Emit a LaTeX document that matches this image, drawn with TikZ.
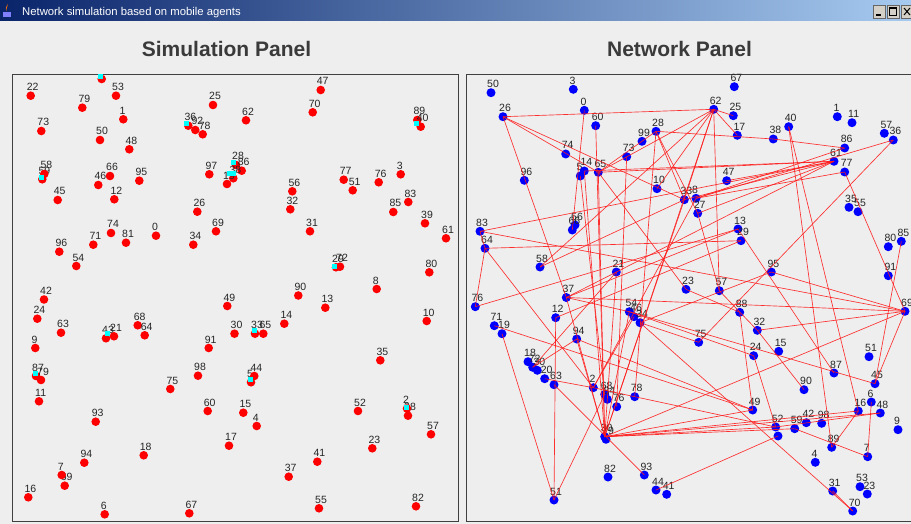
\documentclass[tikz,border=0pt]{standalone}
\usepackage{fontspec}
\setmainfont{Liberation Sans}
\usetikzlibrary{calc}
\definecolor{bg}{HTML}{EEEEEE}
\definecolor{tbdark}{HTML}{0A246A}
\definecolor{tblight}{HTML}{A6CAF0}
\definecolor{ttl}{HTML}{3A3A3A}
\definecolor{frame}{HTML}{404040}
\definecolor{agentred}{HTML}{FF0000}
\definecolor{netblue}{HTML}{0000FF}
\definecolor{cy}{HTML}{00FFFF}
\definecolor{edgered}{HTML}{FF1A1A}
\definecolor{btn}{HTML}{D4D0C8}
\tikzset{
  rdot/.style={circle, fill=agentred, inner sep=0pt, minimum size=8.6pt},
  bdot/.style={circle, fill=netblue, inner sep=0pt, minimum size=9pt},
  lab/.style={anchor=base west, inner sep=0pt, font=\fontsize{10.5}{12}\selectfont, text=black!85},
  cyanmark/.style={fill=cy, draw=none, inner sep=0pt, minimum width=5pt, minimum height=5pt},
  edge/.style={draw=edgered, line width=0.65pt, opacity=0.9},
  panel/.style={draw=frame, line width=1pt, fill=bg},
  paneltitle/.style={anchor=base, inner sep=0pt, font=\fontsize{21}{24}\selectfont\bfseries, text=ttl},
  winbtn/.style={draw=black!60, fill=btn, line width=0.6pt}
}
\newcommand\mkred[4]{\node[rdot] (#1) at (#2,#3) {}; \node[lab] (#1t) at (#2-4,#3-5) {#4};}
\newcommand\mkblue[4]{\node[bdot] (#1) at (#2,#3) {}; \node[lab] (#1t) at (#2-4,#3-5) {#4};}
\newcommand\cya[3]{\node[cyanmark] (#1) at (#2,#3) {};}
\newcommand\edgeline[2]{\draw[edge] (#1.center) -- (#2.center);}
\begin{document}
\begin{tikzpicture}[x=1pt,y=-1pt]
\useasboundingbox (0,0) rectangle (911,524);
\fill[bg] (0,0) rectangle (911,524);
% title bar
\shade[left color=tbdark, right color=tblight] (0,1) rectangle (911,21);
\fill[orange!90!red] (7,3.5) .. controls (9,7) and (5,8) .. (7,11) .. controls (4,8) and (8,6) .. (7,3.5);
\fill[blue!50!white] (3,12) rectangle (11,17.5);
\node[anchor=base west, text=white, font=\fontsize{11.3}{12}\selectfont, inner sep=0pt] (wtitle) at (22,15.5) {Network simulation based on mobile agents};
\draw[winbtn] (873,5) rectangle (885,18);
\draw[line width=1.2pt] (876,15) -- (881,15);
\draw[winbtn] (887,5) rectangle (899,18);
\draw[line width=0.8pt] (889.5,7.5) rectangle (896.5,15.5);
\draw[line width=1.6pt] (889.5,7.8) -- (896.5,7.8);
\draw[winbtn] (901,5) rectangle (913,18);
\draw[line width=1pt] (904,8) -- (910,15) (904,15) -- (910,8);
% panel titles
\node[paneltitle] (stitle) at (226.5,56.5) {Simulation Panel};
\node[paneltitle] (ntitle) at (679.5,56.5) {Network Panel};
% panels
\draw[panel] (12,75) rectangle (458,521);
\draw[panel] (466,75) rectangle (912,521);

% ---------------- simulation panel ----------------
\node[rdot] (atop) at (101.7,79) {};
\mkred{a22}{30.7}{95.7}{22}
\mkred{a53}{116}{95.7}{53}
\mkred{a79}{82.3}{107.7}{79}
\mkred{a1}{123.3}{119.3}{1}
\mkred{a25}{213}{105}{25}
\mkred{a73}{41.3}{131}{73}
\mkred{a36}{188.3}{125.7}{36}
\mkred{a92}{195.3}{130}{92}
\mkred{a78}{202.7}{134.3}{78}
\mkred{a50}{100}{140}{50}
\mkred{a48}{129.3}{149.3}{48}
\mkred{a59}{42.3}{179.3}{59}
\mkred{a58}{44.3}{174}{58}
\mkred{a66}{110}{176}{66}
\mkred{a46}{98.3}{185}{46}
\mkred{a95}{139.3}{180.7}{95}
\mkred{a97}{209.3}{174.3}{97}
\mkred{a45}{57.7}{200}{45}
\mkred{a12}{114.3}{199.3}{12}
\mkred{a26}{197.3}{211.7}{26}
\mkred{a74}{111}{233}{74}
\mkred{a81}{126}{242.7}{81}
\mkred{a0}{156}{235.7}{0}
\mkred{a34}{193.3}{244.7}{34}
\mkred{a69}{216}{231.3}{69}
\mkred{a71}{93.3}{244.7}{71}
\mkred{a96}{59.3}{251.7}{96}
\mkred{a54}{76.3}{266}{54}
\mkred{a42}{44}{299.5}{42}
\mkred{a49}{227.3}{306}{49}
\mkred{a28}{236}{165}{28}
\mkred{a86}{241.7}{170.7}{86}
\mkred{a38c}{233.3}{178.3}{38}
\mkred{a19}{227}{184}{19}
\mkred{a62}{246}{120.3}{62}
\mkred{a47}{320.7}{90}{47}
\mkred{a70}{312.7}{112.3}{70}
\mkred{a89}{417.3}{120}{89}
\mkred{a40}{420.7}{126.7}{40}
\mkred{a56}{292.3}{191.3}{56}
\mkred{a32}{290.3}{209.3}{32}
\mkred{a77}{343.7}{179.7}{77}
\mkred{a51}{352.7}{190.3}{51}
\mkred{a76}{378.7}{182.3}{76}
\mkred{a3}{400.7}{174.3}{3}
\mkred{a83}{408.3}{202}{83}
\mkred{a85}{393.3}{212}{85}
\mkred{a39}{425}{223.3}{39}
\mkred{a61}{446}{238.3}{61}
\mkred{a31}{310}{231.3}{31}
\mkred{a29}{336}{267.3}{29}
\mkred{a72}{340}{266.7}{72}
\mkred{a80}{429.3}{272.3}{80}
\mkred{a8}{376.7}{289}{8}
\mkred{a90}{298.3}{295.5}{90}
\mkred{a13}{325.3}{307.7}{13}
\mkred{a24}{37.3}{318.7}{24}
\mkred{a63}{61}{332.7}{63}
\mkred{a43}{106}{338.3}{43}
\mkred{a21}{114}{336.3}{21}
\mkred{a68}{137.7}{325.3}{68}
\mkred{a64}{144.7}{335.3}{64}
\mkred{a91}{208.7}{348}{91}
\mkred{a30}{234.5}{333.7}{30}
\mkred{a9}{35.3}{348}{9}
\mkred{a87}{36}{376}{87}
\mkred{a79b}{41}{380}{79}
\mkred{a98}{198}{375.7}{98}
\mkred{a75}{170.3}{389}{75}
\mkred{a11}{39}{401.3}{11}
\mkred{a60}{207.7}{411}{60}
\mkred{a93}{95.7}{421.7}{93}
\mkred{a17}{229}{445.7}{17}
\mkred{a18}{143.7}{455.3}{18}
\mkred{a94}{84.3}{462.7}{94}
\mkred{a69b}{64.7}{485.7}{69}
\mkred{a7}{61.7}{475}{7}
\mkred{a16}{28.3}{497.3}{16}
\mkred{a6}{104.7}{514.3}{6}
\mkred{a67}{189.3}{513.3}{67}
\mkred{a10}{426.7}{321}{10}
\mkred{a14}{284.3}{323.7}{14}
\mkred{a33}{255}{333.7}{33}
\mkred{a65}{263.3}{333.7}{65}
\mkred{a35}{380.3}{360.3}{35}
\mkred{a5}{251}{382.3}{5}
\mkred{a44}{254.3}{376}{44}
\mkred{a15}{243.3}{412.7}{15}
\mkred{a4}{256.7}{426}{4}
\mkred{a52}{358}{411}{52}
\mkred{a38}{408}{415.7}{38}
\mkred{a2}{407}{408.5}{2}
\mkred{a57}{431}{434.3}{57}
\mkred{a23}{372.3}{448.3}{23}
\mkred{a41}{317.3}{461.7}{41}
\mkred{a37}{288.7}{476.7}{37}
\mkred{a55}{319}{508.3}{55}
\mkred{a82}{416}{506.3}{82}
% cyan markers
\cya{c1}{100.7}{77}
\cya{c2}{186.7}{123.3}
\cya{c3}{41}{177.3}
\cya{c4}{233.3}{162.7}
\node[cyanmark, minimum width=9pt] (c5) at (231.7,174) {};
\cya{c6}{416.3}{124}
\cya{c7}{334.3}{266}
\cya{c8}{107.7}{333.7}
\cya{c9}{35.3}{373.7}
\cya{c10}{254.3}{330.7}
\cya{c11}{250}{379.3}
\cya{c12}{406.7}{407.3}

% ---------------- network panel ----------------
\mkblue{n50}{491}{92.7}{50}
\mkblue{n3}{573.3}{89.3}{3}
\mkblue{n67}{734.3}{86.7}{67}
\mkblue{n26}{503}{116.7}{26}
\mkblue{n0}{584.3}{110.3}{0}
\mkblue{n60}{595.7}{125.7}{60}
\mkblue{n62}{713.7}{109.3}{62}
\mkblue{n25}{733.3}{115.7}{25}
\mkblue{n17}{737.3}{135.3}{17}
\mkblue{n1}{837.3}{116.7}{1}
\mkblue{n11}{852}{122.7}{11}
\mkblue{n40}{788.7}{126.7}{40}
\mkblue{n38}{773.3}{139}{38}
\mkblue{n28}{656}{131.3}{28}
\mkblue{n99}{642}{141.3}{99}
\mkblue{n57}{884.3}{133.3}{57}
\mkblue{n36}{893.3}{140}{36}
\mkblue{n86}{844.7}{148}{86}
\mkblue{n74}{565.7}{154}{74}
\mkblue{n73}{626.7}{156.7}{73}
\mkblue{n61}{834}{161.3}{61}
\mkblue{n77}{844.7}{172}{77}
\mkblue{n5}{580.3}{176}{5}
\mkblue{n14}{584.3}{171}{14}
\mkblue{n65}{598.3}{172.3}{65}
\mkblue{n47}{726.7}{180.7}{47}
\mkblue{n96}{524.3}{180.3}{96}
\mkblue{n10}{657}{188.7}{10}
\mkblue{n33}{684.3}{199.7}{33}
\mkblue{n8}{696}{198.3}{8}
\mkblue{n27}{697.7}{213.3}{27}
\mkblue{n35}{849}{207.3}{35}
\mkblue{n55}{858}{211.7}{55}
\mkblue{n56}{575}{225}{56}
\mkblue{n66}{572.3}{230}{66}
\mkblue{n83}{480}{231.3}{83}
\mkblue{n13}{738}{229}{13}
\mkblue{n29}{741}{240.7}{29}
\mkblue{n85}{901.3}{241.3}{85}
\mkblue{n80}{888.3}{246.7}{80}
\mkblue{n64}{485}{248.3}{64}
\mkblue{n58}{540}{267}{58}
\mkblue{n21}{616.3}{272}{21}
\mkblue{n95}{771.3}{272}{95}
\mkblue{n91}{888.3}{275.7}{91}
\mkblue{n23}{686}{289.3}{23}
\mkblue{n97}{719.3}{290.7}{57}
\mkblue{n37}{566.3}{297.5}{37}
\mkblue{n76}{475.3}{306.7}{76}
\mkblue{n54}{629.3}{311.7}{54}
\mkblue{n46}{634}{316.7}{46}
\mkblue{n34}{640}{322.7}{34}
\mkblue{n88}{739.7}{312.3}{88}
\mkblue{n69}{905}{311.3}{69}
\mkblue{n12}{555.7}{317.7}{12}
\mkblue{n71}{494.3}{325.7}{71}
\mkblue{n32}{757.3}{330.3}{32}
\mkblue{n19}{502}{333.7}{19}
\mkblue{n94}{576.7}{339}{94}
\mkblue{n75}{698.7}{342.3}{75}
\mkblue{n15}{778.7}{351.3}{15}
\mkblue{n24}{753.7}{355.7}{24}
\mkblue{n51}{869}{356.7}{51}
\mkblue{n18}{528}{361.7}{18}
\mkblue{n72}{532.7}{367.3}{72}
\mkblue{n30}{537.3}{370.3}{30}
\mkblue{n20}{544.7}{378.7}{20}
\mkblue{n87}{834}{373}{87}
\mkblue{n45}{875}{383.7}{45}
\mkblue{n63}{554}{384.7}{63}
\mkblue{n2}{593.3}{387.7}{2}
\mkblue{n90}{804}{389.7}{90}
\mkblue{n68}{604.7}{394.3}{68}
\mkblue{n84}{607.3}{399.3}{84}
\mkblue{n78}{634.7}{396.7}{78}
\mkblue{n6}{871.3}{402}{6}
\mkblue{n56b}{616.7}{406.7}{76}
\mkblue{n49}{752.7}{410}{49}
\mkblue{n16}{858.3}{411}{16}
\mkblue{n48}{880.3}{413}{48}
\mkblue{n42}{806.3}{422.7}{42}
\mkblue{n98}{821.7}{423.3}{98}
\mkblue{n52}{775.7}{427}{52}
\mkblue{n59}{794.7}{428.7}{59}
\mkblue{n9}{898}{429.7}{9}
\node[bdot] (n52b) at (778,436) {};
\mkblue{n39}{604.7}{436.7}{30}
\mkblue{n79}{606}{439.3}{79}
\mkblue{n89}{831.7}{447.3}{89}
\mkblue{n7}{867.7}{456.7}{7}
\mkblue{n4}{815.3}{462.3}{4}
\mkblue{n82}{608}{477}{82}
\mkblue{n93}{644.3}{475}{93}
\mkblue{n53}{860}{486.7}{53}
\mkblue{n44}{656}{490}{44}
\mkblue{n31}{832.7}{491}{31}
\mkblue{n23b}{867.3}{494}{23}
\mkblue{n41}{666.7}{494.3}{41}
\mkblue{n51b}{554}{500}{51}
\mkblue{n70}{852.7}{511}{70}

% edges
\edgeline{n26}{n62}
\edgeline{n26}{n65}
\edgeline{n26}{n33}
\edgeline{n26}{n37}
\edgeline{n0}{n66}
\edgeline{n60}{n39}
\edgeline{n65}{n28}
\edgeline{n28}{n38}
\edgeline{n38}{n86}
\edgeline{n28}{n33}
\edgeline{n28}{n27}
\edgeline{n28}{n78}
\edgeline{n73}{n56b}
\edgeline{n14}{n39}
\edgeline{n5}{n68}
\edgeline{n65}{n39}
\edgeline{n21}{n39}
\edgeline{n65}{n23}
\edgeline{n83}{n61}
\edgeline{n83}{n69}
\edgeline{n83}{n64}
\edgeline{n64}{n76}
\edgeline{n64}{n2}
\edgeline{n64}{n29}
\edgeline{n58}{n33}
\edgeline{n76}{n13}
\edgeline{n37}{n54}
\edgeline{n54}{n24}
\edgeline{n34}{n75}
\edgeline{n62}{n25}
\edgeline{n62}{n17}
\edgeline{n62}{n97}
\edgeline{n62}{n33}
\edgeline{n62}{n10}
\edgeline{n62}{n58}
\edgeline{n62}{n39}
\edgeline{n62}{n65}
\edgeline{n40}{n89}
\edgeline{n40}{n16}
\edgeline{n36}{n75}
\edgeline{n36}{n8}
\edgeline{n61}{n33}
\edgeline{n61}{n14}
\edgeline{n61}{n65}
\edgeline{n61}{n37}
\edgeline{n8}{n86}
\edgeline{n8}{n77}
\edgeline{n27}{n61}
\edgeline{n77}{n69}
\edgeline{n85}{n45}
\edgeline{n95}{n69}
\edgeline{n47}{n61}
\edgeline{n29}{n12}
\edgeline{n13}{n37}
\edgeline{n88}{n49}
\edgeline{n24}{n52}
\edgeline{n32}{n90}
\edgeline{n32}{n69}
\edgeline{n54}{n45}
\edgeline{n39}{n16}
\edgeline{n39}{n48}
\edgeline{n39}{n49}
\edgeline{n39}{n52}
\edgeline{n39}{n59}
\edgeline{n39}{n69}
\edgeline{n52}{n48}
\edgeline{n16}{n89}
\edgeline{n6}{n7}
\edgeline{n59}{n7}
\edgeline{n31}{n70}
\edgeline{n34}{n70}
\edgeline{n44}{n52b}
\edgeline{n45}{n69}
\edgeline{n12}{n51b}
\edgeline{n19}{n51b}
\edgeline{n51b}{n68}
\edgeline{n20}{n2}
\edgeline{n63}{n93}
\edgeline{n94}{n39}
\edgeline{n94}{n49}
\edgeline{n94}{n72}
\edgeline{n37}{n39}
\edgeline{n2}{n78}
\edgeline{n78}{n52}
\edgeline{n72}{n21}
\edgeline{n71}{n49}
\edgeline{n13}{n87}
\edgeline{n34}{n95}
\edgeline{n37}{n69}
\edgeline{n27}{n97}
\edgeline{n23}{n88}
\edgeline{n97}{n32}
\edgeline{n54}{n39}
\edgeline{n46}{n2}
\edgeline{n33}{n39}
\edgeline{n8}{n2}
\end{tikzpicture}
\end{document}
